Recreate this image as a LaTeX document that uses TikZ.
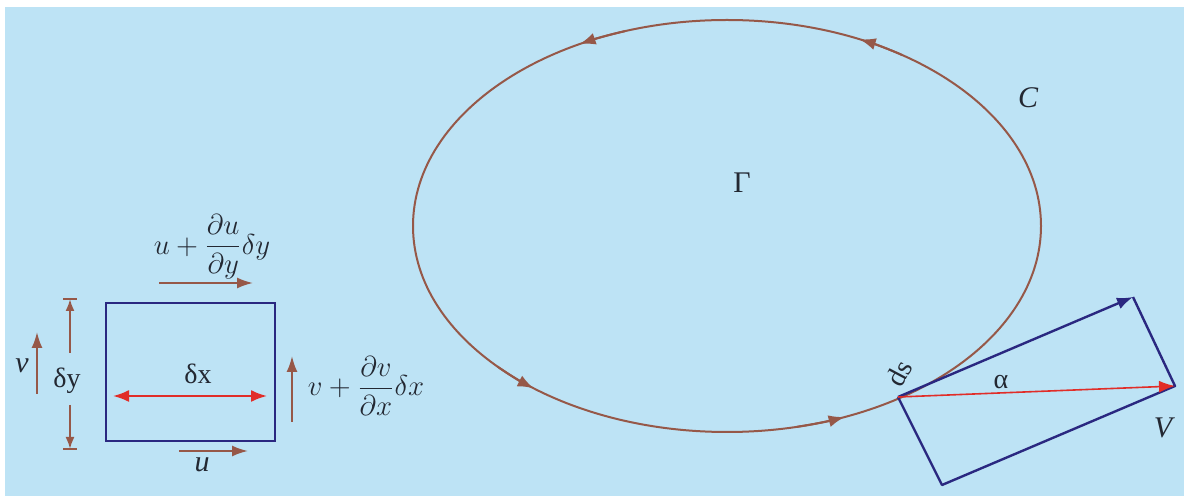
\documentclass[tikz,border=0pt]{standalone}
\usepackage{amsmath}
\usepackage{fontspec}
\setmainfont{Liberation Serif}
\usetikzlibrary{arrows.meta}
\definecolor{bg}{RGB}{189,227,245}
\definecolor{brn}{RGB}{150,88,72}
\definecolor{navy}{RGB}{42,40,128}
\definecolor{redA}{RGB}{225,45,40}
\definecolor{ink}{RGB}{35,40,50}
\begin{document}
\begin{tikzpicture}[x=0.5pt,y=-0.5pt,
  brnarrow/.style={brn,line width=1pt,-{Latex[length=8pt,width=5.5pt]}},
  ellarrow/.style={brn,line width=1pt,-{Latex[length=8pt,width=6pt]}},
  lbl/.style={text=ink,inner sep=0pt,font=\fontsize{14}{16}\selectfont},
  mlbl/.style={text=ink,inner sep=0pt,font=\fontsize{14}{16}\selectfont},
  navyline/.style={navy,line width=1.2pt,line join=round}]
\useasboundingbox (0,0) rectangle (1184,496);
\fill[white] (0,0) rectangle (1184,496);
\fill[bg] (5,7) rectangle (1184,496);

% ---------- left element ----------
\node[draw=navy,line width=1.2pt,minimum width=84.5pt,minimum height=69pt,inner sep=0pt] (elem) at (190.5,372) {};
\coordinate (dxL) at (113,396);
\coordinate (dxR) at (267,396);
\draw[redA,line width=1pt,{Latex[length=8pt,width=6pt]}-{Latex[length=8pt,width=6pt]}] (dxL) -- (dxR);
\node[lbl] (dx) at (198,374) {δx};

% delta y dimension
\node[lbl] (dy) at (67,381) {δy};
\coordinate (dyT) at (70,299);
\coordinate (dyB) at (70,449);
\draw[brn,line width=1pt,-{Latex[length=6pt,width=4.5pt]}] (70,353) -- (dyT);
\draw[brn,line width=1pt,-{Latex[length=6pt,width=4.5pt]}] (70,405) -- (dyB);
\draw[brn,line width=1pt] (63,299) -- (77,299) (63,449) -- (77,449);

% v arrow
\coordinate (vS) at (37,394);
\coordinate (vE) at (37,332);
\draw[brnarrow] (vS) -- (vE);
\node[lbl,font=\fontsize{15}{16}\selectfont\itshape] (vl) at (22,366) {v};

% top arrow
\coordinate (tS) at (159,283);
\coordinate (tE) at (253,283);
\draw[brnarrow] (tS) -- (tE);
\node[mlbl] (tl) at (212,247) {$u+\dfrac{\partial u}{\partial y}\delta y$};

% bottom arrow
\coordinate (bS) at (179,451);
\coordinate (bE) at (248,451);
\draw[brnarrow] (bS) -- (bE);
\node[lbl,font=\fontsize{15}{16}\selectfont\itshape] (ul) at (202,465) {u};

% right arrow
\coordinate (rS) at (292,422);
\coordinate (rE) at (292,356);
\draw[brnarrow] (rS) -- (rE);
\node[mlbl] (rl) at (366,386) {$v+\dfrac{\partial v}{\partial x}\delta x$};

% ---------- contour ----------
\coordinate (O) at (727,226);
\draw[brn,line width=1pt] (O) ellipse [x radius=314,y radius=206];
\draw[ellarrow] ([shift={(727,226)}]-56:314 and 206) arc[start angle=-56,end angle=-65,x radius=314,y radius=206];
\draw[ellarrow] ([shift={(727,226)}]-109:314 and 206) arc[start angle=-109,end angle=-118,x radius=314,y radius=206];
\draw[ellarrow] ([shift={(727,226)}]-223:314 and 206) arc[start angle=-223,end angle=-232,x radius=314,y radius=206];
\draw[ellarrow] ([shift={(727,226)}]-283:314 and 206) arc[start angle=-283,end angle=-292,x radius=314,y radius=206];
\node[lbl,font=\fontsize{15}{16}\selectfont] (G) at (742,183) {Γ};
\node[lbl,font=\fontsize{15}{16}\selectfont\itshape] (Cl) at (1028,98) {C};

% ---------- velocity rectangle ----------
\coordinate (A) at (898,397);
\coordinate (B) at (1133,297);
\coordinate (Cc) at (1175,386);
\coordinate (D) at (942,485);
\draw[navyline] (B) -- (Cc) -- (D) -- (A);
\draw[navyline,-{Latex[length=8pt,width=6pt]}] (A) -- (B);
\draw[redA,line width=0.8pt,-{Latex[length=8pt,width=6pt]}] (A) -- (Cc);
\node[lbl] (al) at (1001,382) {α};
\node[lbl,rotate=62] (ds) at (899,373) {ds};
\node[lbl,font=\fontsize{15}{16}\selectfont\itshape] (Vl) at (1163,428) {V};
\end{tikzpicture}
\end{document}
